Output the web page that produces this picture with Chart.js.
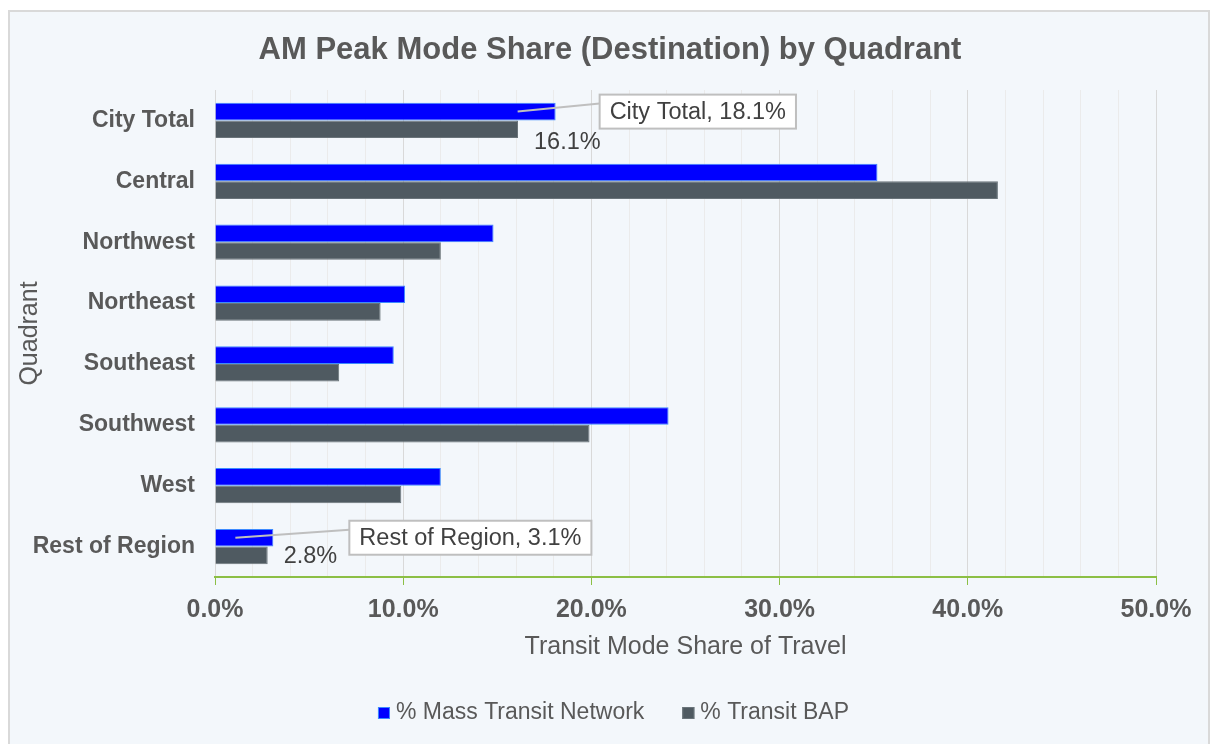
<!DOCTYPE html>
<html>
<head>
<meta charset="utf-8">
<script src="https://cdn.jsdelivr.net/npm/chart.js@4.4.1/dist/chart.umd.min.js"></script>
<style>
  html, body { margin: 0; padding: 0; background: #ffffff; }
  #wrap { width: 1211px; height: 744px; }
</style>
</head>
<body>
<div id="wrap"><canvas id="chart" width="1211" height="744"></canvas></div>
<script>
// chart data
var chartTitle = 'AM Peak Mode Share (Destination) by Quadrant';
var quadrants = ['City Total', 'Central', 'Northwest', 'Northeast', 'Southeast', 'Southwest', 'West', 'Rest of Region'];
var massTransit = [18.1, 35.2, 14.8, 10.1, 9.5, 24.1, 12.0, 3.1];
var transitBAP = [16.1, 41.6, 12.0, 8.8, 6.6, 19.9, 9.9, 2.8];
var seriesNames = ['% Mass Transit Network', '% Transit BAP'];
var xTickLabels = [0, 10, 20, 30, 40, 50];

// which bars carry a label (placement is tweaked by hand, like in the original)
var callouts = [{ index: 0, dx: 44 }, { index: 7, dx: 76 }];
var valueLabels = [{ index: 0, dy: 13 }, { index: 7, dy: 1 }];

var FONT = '"Liberation Sans", Arial, sans-serif';
var TEXT = '#595959';

// white page, light blue chart frame and the title (centred on the frame, not the plot)
var framePlugin = {
    id: 'frame',
    beforeDraw: function(chart) {
        var ctx = chart.ctx;
        ctx.save();
        ctx.fillStyle = '#ffffff';
        ctx.fillRect(0, 0, chart.width, chart.height);
        ctx.fillStyle = '#f3f7fb';
        ctx.fillRect(9, 11, 1200, 800);
        ctx.strokeStyle = '#d9d9d9';
        ctx.lineWidth = 2;
        ctx.strokeRect(9, 11, 1200, 800);

        ctx.fillStyle = TEXT;
        ctx.font = 'bold 31px ' + FONT;
        ctx.textAlign = 'center';
        ctx.textBaseline = 'middle';
        ctx.fillText(chartTitle, 610, 50);
        ctx.restore();
    }
};

// data labels and the two boxed callouts
var calloutPlugin = {
    id: 'callouts',
    afterDatasetsDraw: function(chart) {
        var ctx = chart.ctx;
        var blue = chart.getDatasetMeta(0).data;
        var grey = chart.getDatasetMeta(1).data;
        ctx.save();
        ctx.font = '23.5px ' + FONT;
        ctx.textBaseline = 'middle';
        ctx.textAlign = 'left';

        ctx.fillStyle = '#404040';
        valueLabels.forEach(function(l) {
            var bar = grey[l.index];
            ctx.fillText(transitBAP[l.index].toFixed(1) + '%', bar.x + 16, bar.y + l.dy);
        });

        callouts.forEach(function(c) {
            var bar = blue[c.index];
            var text = quadrants[c.index] + ', ' + massTransit[c.index].toFixed(1) + '%';
            var w = ctx.measureText(text).width + 20;
            var left = bar.x + c.dx;
            var top = bar.y - 17;

            ctx.strokeStyle = '#bfbfbf';
            ctx.lineWidth = 2;
            ctx.beginPath();
            ctx.moveTo(bar.x - 38, bar.y);
            ctx.lineTo(left, bar.y - 8);
            ctx.stroke();

            ctx.fillStyle = '#ffffff';
            ctx.fillRect(left, top, w, 34);
            ctx.strokeRect(left, top, w, 34);

            ctx.fillStyle = '#404040';
            ctx.fillText(text, left + 10, bar.y + 1);
        });
        ctx.restore();
    }
};

// legend under the axis title
var legendPlugin = {
    id: 'bottomLegend',
    afterDraw: function(chart) {
        var ctx = chart.ctx;
        var sets = chart.data.datasets;
        var gap = 38;
        ctx.save();
        ctx.font = '23px ' + FONT;
        ctx.textBaseline = 'middle';
        ctx.textAlign = 'left';

        var widths = sets.map(function(ds) { return 18 + ctx.measureText(ds.label).width; });
        var total = widths.reduce(function(a, b) { return a + b; }, 0) + gap * (sets.length - 1);
        var x = chart.width / 2 + 8 - total / 2;
        var y = 713;

        for (var i = 0; i < sets.length; i++) {
            ctx.fillStyle = sets[i].backgroundColor;
            ctx.fillRect(x, y - 6, 12, 12);
            ctx.strokeStyle = sets[i].borderColor;
            ctx.lineWidth = 1;
            ctx.strokeRect(x + 0.5, y - 5.5, 11, 11);
            ctx.fillStyle = TEXT;
            ctx.fillText(sets[i].label, x + 18, y);
            x += widths[i] + gap;
        }
        ctx.restore();
    }
};

function isMajor(c) {
    return c.tick && xTickLabels.indexOf(c.tick.value) >= 0;
}

new Chart(document.getElementById('chart'), {
    type: 'bar',
    data: {
        labels: quadrants,
        datasets: [
            {
                label: seriesNames[0],
                data: massTransit,
                backgroundColor: '#0000ff',
                borderColor: '#3d8bff',
                borderWidth: 1,
                categoryPercentage: 0.58,
                barPercentage: 1
            },
            {
                label: seriesNames[1],
                data: transitBAP,
                backgroundColor: '#4f5a61',
                borderColor: '#6a747a',
                borderWidth: 1,
                categoryPercentage: 0.58,
                barPercentage: 1
            }
        ]
    },
    options: {
        indexAxis: 'y',
        responsive: false,
        animation: false,
        layout: { padding: { left: 10, right: 55, top: 90, bottom: 82 } },
        plugins: {
            legend: { display: false },
            tooltip: { enabled: false },
            title: { display: false }
        },
        scales: {
            x: {
                min: 0,
                max: 50,
                ticks: {
                    stepSize: 2,
                    autoSkip: false,
                    maxRotation: 0,
                    color: TEXT,
                    padding: 10,
                    font: { family: FONT, size: 25, weight: 'bold' },
                    callback: function(v) {
                        return xTickLabels.indexOf(v) >= 0 ? v.toFixed(1) + '%' : '';
                    }
                },
                grid: {
                    color: function(c) { return isMajor(c) ? '#d9d9d9' : '#ebebeb'; },
                    tickColor: function(c) { return isMajor(c) ? '#8cbf45' : 'rgba(0,0,0,0)'; },
                    tickLength: 8,
                    lineWidth: 1
                },
                border: { color: '#8cbf45', width: 2 },
                title: {
                    display: true,
                    text: 'Transit Mode Share of Travel',
                    color: TEXT,
                    font: { family: FONT, size: 25 },
                    padding: { top: 0, bottom: 0 }
                },
                afterFit: function(scale) { scale.height = 85; }
            },
            y: {
                ticks: {
                    autoSkip: false,
                    color: TEXT,
                    padding: 12,
                    font: { family: FONT, size: 23, weight: 'bold' }
                },
                grid: { display: false },
                border: { display: false },
                title: {
                    display: true,
                    text: 'Quadrant',
                    color: TEXT,
                    font: { family: FONT, size: 25 },
                    padding: { top: 5, bottom: 0 }
                },
                afterFit: function(scale) { scale.width = 205; }
            }
        }
    },
    plugins: [framePlugin, calloutPlugin, legendPlugin]
});
</script>
</body>
</html>
